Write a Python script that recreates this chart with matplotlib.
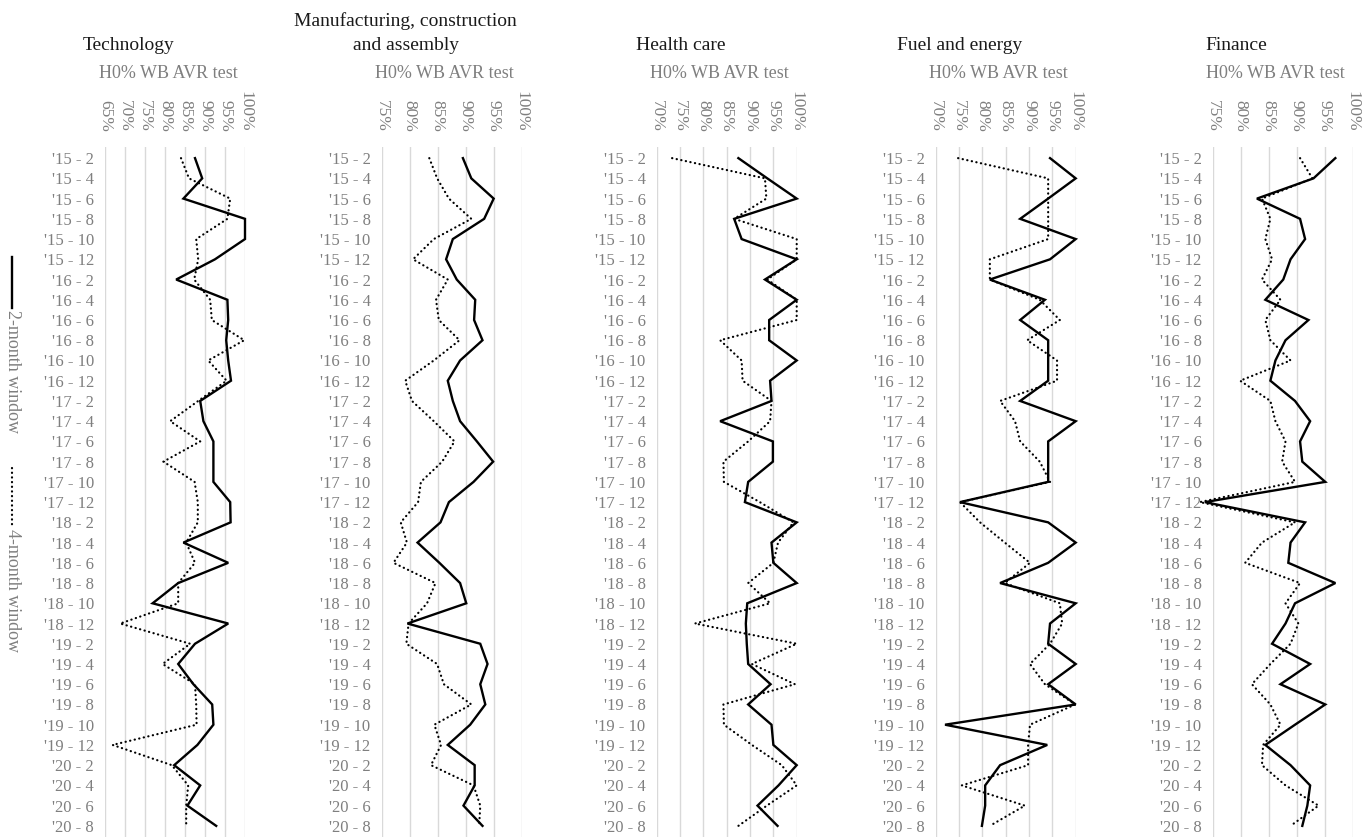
import numpy as np
import matplotlib
matplotlib.use('Agg')
import matplotlib.pyplot as plt
from matplotlib.lines import Line2D

plt.rcParams['font.family'] = 'Liberation Serif'

# --- data: share of windows passing the H0% WB AVR test ---
periods = ["'15 - 2", "'15 - 4", "'15 - 6", "'15 - 8", "'15 - 10", "'15 - 12",
           "'16 - 2", "'16 - 4", "'16 - 6", "'16 - 8", "'16 - 10", "'16 - 12",
           "'17 - 2", "'17 - 4", "'17 - 6", "'17 - 8", "'17 - 10", "'17 - 12",
           "'18 - 2", "'18 - 4", "'18 - 6", "'18 - 8", "'18 - 10", "'18 - 12",
           "'19 - 2", "'19 - 4", "'19 - 6", "'19 - 8", "'19 - 10", "'19 - 12",
           "'20 - 2", "'20 - 4", "'20 - 6", "'20 - 8"]

sectors = ["Technology", "Manufacturing, construction\nand assembly",
           "Health care", "Fuel and energy", "Finance"]

tech_2m = [87.5, 89.3, 84.6, 100, 100, 92.5, 82.8, 95.6, 95.8, 95.3, 95.8, 96.5,
           88.8, 89.6, 92.1, 92.1, 92.1, 96.3, 96.4, 84.6, 95.8, 83.3, 76.9, 95.8,
           87.5, 83.3, 87.1, 91.8, 92.1, 88.1, 82.3, 88.8, 85.6, 92.8]
tech_4m = [84.0, 86.0, 96.3, 95.6, 87.8, 88.3, 87.3, 91.3, 91.7, 99.8, 90.8, 95.4,
           88.3, 81.3, 88.8, 79.6, 87.4, 88.2, 88.2, 85.3, 87.5, 83.3, 83.3, 68.8,
           86.3, 79.4, 87.5, 87.8, 87.9, 66.9, 81.7, 85.8, 85.3, 85.3]

manuf_2m = [89.5, 91.0, 95.0, 93.3, 87.7, 86.5, 88.4, 91.7, 91.5, 93.0, 89.0, 86.8,
            87.7, 89.0, 92.0, 94.9, 91.4, 87.0, 85.5, 81.4, 85.3, 89.0, 90.1, 79.6,
            92.6, 93.9, 92.6, 93.5, 90.8, 86.8, 91.6, 91.6, 89.6, 93.0]
manuf_4m = [83.5, 84.9, 87.0, 91.0, 84.3, 80.6, 86.8, 84.7, 85.2, 88.9, 84.3, 79.2,
            80.4, 84.3, 88.0, 85.8, 82.0, 81.5, 78.4, 79.5, 77.1, 84.6, 83.1, 79.8,
            79.4, 84.9, 86.1, 91.0, 84.4, 85.6, 83.8, 91.4, 92.6, 92.4]

health_2m = [87.5, 93.7, 100, 86.6, 88.2, 100, 93.2, 100, 94.1, 94.1, 100, 94.3,
             94.6, 83.6, 94.9, 94.9, 89.6, 88.9, 100, 94.6, 95.0, 100, 89.4, 89.1,
             89.3, 89.6, 94.4, 89.6, 94.6, 95.0, 100, 96.1, 91.6, 95.9]
health_4m = [73.3, 93.2, 93.5, 86.6, 100, 100, 93.7, 100, 100, 83.6, 88.2, 88.4,
             94.6, 94.3, 89.6, 84.3, 84.4, 92.1, 99.3, 96.0, 95.0, 89.6, 94.3, 78.2,
             100, 90.4, 99.6, 84.3, 84.4, 90.4, 96.8, 100, 93.6, 87.5]

fuel_2m = [94.5, 100, 94.1, 88.1, 100, 94.5, 81.6, 93.4, 88.1, 94.1, 94.1, 94.1,
           88.1, 100, 94.1, 94.1, 94.1, 75.2, 94.1, 100, 94.1, 83.8, 100, 94.5,
           94.1, 100, 94.1, 100, 72.0, 93.9, 83.8, 80.6, 80.6, 79.9]
fuel_4m = [74.8, 94.1, 94.1, 94.1, 94.1, 81.6, 81.6, 92.3, 96.6, 89.6, 96.0, 96.0,
           83.8, 87.0, 88.1, 92.3, 94.5, 75.2, 79.5, 84.8, 90.2, 84.8, 96.6, 97.1,
           94.5, 90.2, 93.4, 99.9, 90.2, 89.8, 89.8, 75.6, 89.1, 81.6]

fin_2m = [96.9, 93.0, 82.9, 90.6, 91.5, 88.9, 87.6, 84.4, 92.1, 88.0, 86.2, 85.3,
          89.7, 92.4, 90.6, 91.0, 95.1, 73.6, 91.5, 88.9, 88.5, 96.9, 89.7, 88.0,
          85.6, 92.4, 87.1, 95.1, 89.7, 84.4, 88.9, 92.4, 91.9, 91.0]
fin_4m = [90.6, 92.8, 83.8, 85.3, 84.4, 85.6, 83.8, 87.1, 84.4, 85.3, 88.9, 79.9,
          85.3, 86.2, 88.0, 87.4, 89.7, 72.7, 89.7, 83.8, 80.8, 90.6, 88.0, 90.3,
          88.9, 85.3, 82.0, 85.3, 87.1, 84.0, 83.8, 88.0, 93.9, 88.9]

series_2m = [tech_2m, manuf_2m, health_2m, fuel_2m, fin_2m]
series_4m = [tech_4m, manuf_4m, health_4m, fuel_4m, fin_4m]
axis_min = [65, 75, 70, 70, 75]

# --- layout (pixels on a 1370x840 canvas) ---
W, H = 1370, 840
panel_left = [105, 381.7, 656.7, 935.7, 1212.7]
panel_w = 140
plot_top, plot_bottom = 147, 837
grey = '#7f7f7f'
grid_c = '#d9d9d9'

fig = plt.figure(figsize=(W / 100, H / 100), dpi=100)

def fx(px):
    return px / W

def fy(py):
    return 1 - py / H

rows = np.arange(len(periods))

for i, name in enumerate(sectors):
    ax = fig.add_axes([fx(panel_left[i]), fy(plot_bottom),
                       panel_w / W, (plot_bottom - plot_top) / H])
    ax.plot(series_4m[i], rows, color='black', lw=1.6,
            linestyle=(0, (0.1, 2.0)), dash_capstyle='round', clip_on=False, zorder=3)
    ax.plot(series_2m[i], rows, color='black', lw=1.7,
            solid_joinstyle='miter', clip_on=False, zorder=4)

    ticks = np.arange(axis_min[i], 101, 5)
    ax.set_xlim(axis_min[i], 100)
    ax.set_xticks(ticks)
    ax.set_xticklabels([f"{t}%" for t in ticks])
    ax.set_ylim(len(periods) - 0.45, -0.55)
    ax.set_yticks(rows)
    ax.set_yticklabels(periods)
    ax.xaxis.tick_top()
    ax.tick_params(axis='x', length=0, pad=11, labelsize=12.5,
                   labelcolor=grey, labelrotation=-90)
    ax.tick_params(axis='y', length=0, pad=8, labelsize=12, labelcolor=grey)
    for s in ax.spines.values():
        s.set_visible(False)
    ax.grid(axis='x', color=grid_c, lw=1.0)
    ax.set_axisbelow(True)

    cx = panel_left[i] + panel_w / 2
    fig.text(fx(cx - 7), fy(74), "H0% WB AVR test", ha='center', va='center',
             fontsize=13, color=grey)
    lines = name.split('\n')
    for k, line in enumerate(lines):
        base = 50 - 23.5 * (len(lines) - 1 - k)
        fig.text(fx(cx - 46), fy(base), line, ha='center', va='baseline',
                 fontsize=14, color='#1a1a1a')

# vertical legend along the left edge
fig.add_artist(Line2D([fx(12), fx(12)], [fy(257), fy(308)], color='black', lw=1.7))
fig.text(fx(12), fy(310), "2-month window", rotation=-90, ha='center', va='top',
         fontsize=13, color=grey)
fig.add_artist(Line2D([fx(12), fx(12)], [fy(468), fy(525)], color='black', lw=1.6,
                      linestyle=(0, (0.1, 2.0)), dash_capstyle='round'))
fig.text(fx(12), fy(529), "4-month window", rotation=-90, ha='center', va='top',
         fontsize=13, color=grey)

fig.savefig('out.png', dpi=100)
